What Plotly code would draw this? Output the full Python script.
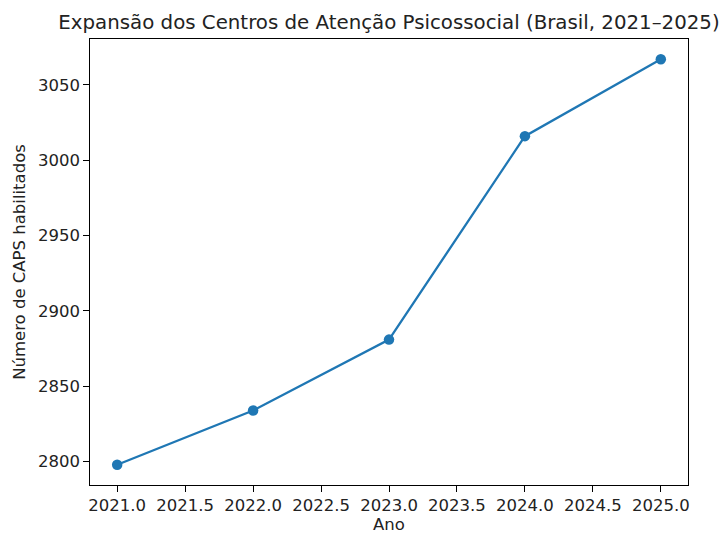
import plotly.graph_objects as go

anos = [2021, 2022, 2023, 2024, 2025]
caps = [2798, 2834, 2881, 3016, 3067]

titulo = "Expansão dos Centros de Atenção Psicossocial (Brasil, 2021–2025)"
x_label = "Ano"
y_label = "Número de CAPS habilitados"

FONT = "DejaVu Sans"
BLUE = "#1f77b4"
FS = 16.5

fig = go.Figure()
fig.add_trace(go.Scatter(
    x=anos, y=caps, mode="lines+markers",
    line=dict(color=BLUE, width=2.3),
    marker=dict(color=BLUE, size=10.5),
    showlegend=False,
))

xr = (min(anos), max(anos))
yr = (min(caps), max(caps))
xm = (xr[1] - xr[0]) * 0.05
ym = (yr[1] - yr[0]) * 0.05

axis_common = dict(
    showgrid=False, zeroline=False,
    showline=True, linecolor="black", linewidth=1.2, mirror=True,
    ticks="outside", ticklen=5.5, tickwidth=1.2, tickcolor="black",
    tickfont=dict(family=FONT, size=FS, color="#222"),
    automargin=False,
)

fig.update_layout(
    width=726, height=534,
    margin=dict(l=90, r=38, t=39, b=49),
    paper_bgcolor="white", plot_bgcolor="white",
    font=dict(family=FONT, color="black"),
    title=dict(text=titulo, x=0.5, xref="paper", xanchor="center",
               y=1, yref="paper", yanchor="bottom", pad=dict(b=10),
               font=dict(family=FONT, size=19.8, color="#222")),
    xaxis=dict(range=[xr[0] - xm, xr[1] + xm], dtick=0.5, tick0=2021,
               tickformat=".1f",
               title=dict(text=x_label, standoff=8,
                          font=dict(family=FONT, size=FS, color="#222")),
               **axis_common),
    yaxis=dict(range=[yr[0] - ym, yr[1] + ym], dtick=50, tick0=2800,
               title=dict(text=y_label, standoff=8,
                          font=dict(family=FONT, size=FS, color="#222")),
               **axis_common),
)

fig.write_html("out.html",
               config={"displayModeBar": False},
               post_script="document.body.style.margin='0';document.body.style.overflow='hidden';")
